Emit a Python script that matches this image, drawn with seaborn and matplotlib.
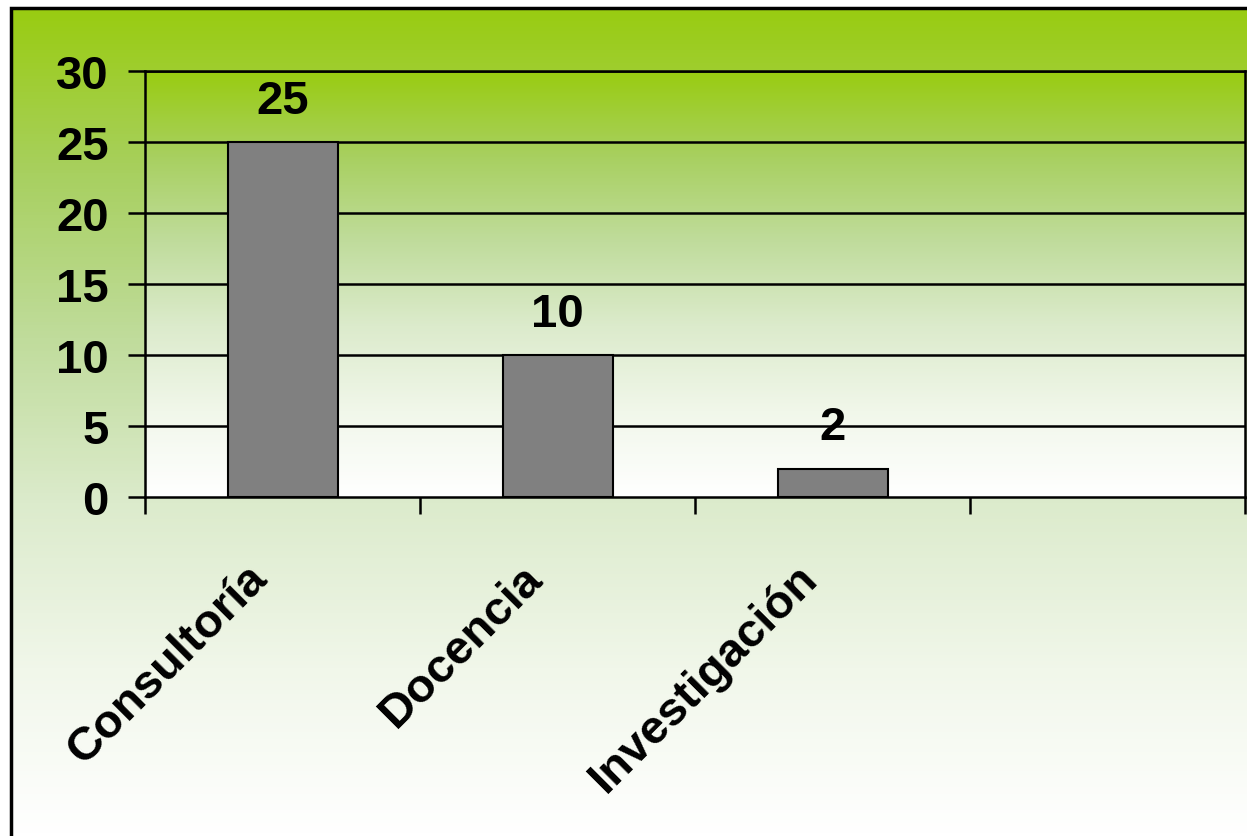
import numpy as np
import matplotlib
matplotlib.use("Agg")
import matplotlib.pyplot as plt
from matplotlib.colors import LinearSegmentedColormap
from matplotlib.patches import Rectangle
import seaborn as sns

categories = ["Consultoría", "Docencia", "Investigación"]
values = [25, 10, 2]
y_ticks = [0, 5, 10, 15, 20, 25, 30]

sns.set_theme(style="white")
plt.rcParams["font.family"] = ["Liberation Sans", "DejaVu Sans"]
plt.rcParams["font.weight"] = "bold"
plt.rcParams["text.color"] = "black"
plt.rcParams["xtick.color"] = "black"
plt.rcParams["ytick.color"] = "black"
plt.rcParams["xtick.labelcolor"] = "black"
plt.rcParams["ytick.labelcolor"] = "black"

GREEN_FADE = LinearSegmentedColormap.from_list(
    "green_fade",
    [(0.0, "#99cc11"), (0.2, "#a8d060"), (0.4, "#c0dc9c"),
     (0.6, "#dcebcc"), (0.8, "#f1f7ea"), (1.0, "#ffffff")])

W, H = 1247, 837
fig = plt.figure(figsize=(W / 100, H / 100), dpi=100)
fig.patch.set_facecolor("white")

# figure background gradient inside the outer frame
bg = fig.add_axes([10 / W, 0, 1 - 10 / W, 1 - 9 / H], zorder=-2)
grad = np.linspace(0, 1, 256).reshape(-1, 1)
bg.imshow(grad, aspect="auto", cmap=GREEN_FADE, extent=[0, 1, 0, 1])
bg.set_axis_off()

# outer frame
fig.patches.append(Rectangle((11 / W, -0.01), 1.2, 1 - 9 / H + 0.01,
                             transform=fig.transFigure, fill=False,
                             edgecolor="black", linewidth=2.5, zorder=5))

ax = fig.add_axes([145 / W, 1 - 498 / H, 1100 / W, 426 / H])
ax.imshow(grad, aspect="auto", cmap=GREEN_FADE, extent=[0, 1, 0, 1],
          transform=ax.transAxes, zorder=0)

sns.barplot(x=categories, y=values, color="#808080", saturation=1,
            width=0.4, edgecolor="black", linewidth=1.5, ax=ax, zorder=3)

ax.set_xlim(-0.5, 3.5)
ax.set_ylim(0, 30)
ax.set_yticks(y_ticks)
ax.set_yticklabels([str(t) for t in y_ticks], fontsize=34, fontweight="bold")
for t in y_ticks[1:]:
    ax.axhline(t, color="black", linewidth=1.8, zorder=2)

# category boundaries as tick marks, rotated names placed under each bar
ax.set_xticks([-0.5, 0.5, 1.5, 2.5, 3.5])
ax.set_xticklabels([])
for i, name in enumerate(categories):
    ax.annotate(name, xy=(i, 0), xycoords=ax.get_xaxis_transform(),
                xytext=(-27, -42), textcoords="offset points",
                rotation=45, rotation_mode="anchor", ha="right", va="top",
                fontsize=34, fontweight="bold", annotation_clip=False)

ax.tick_params(axis="x", direction="out", length=12, width=1.8,
               color="black", bottom=True)
ax.tick_params(axis="y", direction="out", length=12, width=1.8,
               color="black", left=True, pad=14)

for side in ["left", "right", "bottom", "top"]:
    ax.spines[side].set_visible(True)
    ax.spines[side].set_color("black")
    ax.spines[side].set_linewidth(1.8)

ax.set_xlabel("")
ax.set_ylabel("")

for c in ax.containers:
    ax.bar_label(c, labels=[str(v) for v in values], padding=14,
                 fontsize=34, fontweight="bold", color="black")

fig.savefig("out.png", dpi=100)
